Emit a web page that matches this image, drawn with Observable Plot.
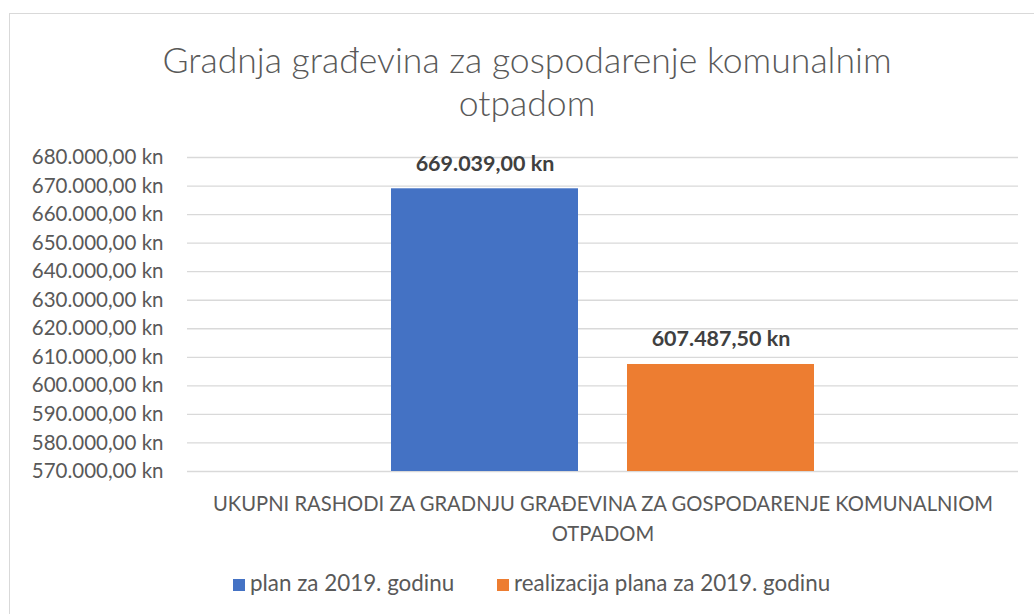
<!DOCTYPE html>
<html>
<head>
<meta charset="utf-8">
<script src="https://cdn.jsdelivr.net/npm/d3@7"></script>
<script src="https://cdn.jsdelivr.net/npm/@observablehq/plot@0.6"></script>
<style>
  html, body { margin: 0; padding: 0; background: #fff; overflow: hidden; }
  #frame { position: absolute; left: 9px; top: 13px; width: 1040px; height: 620px; border: 1px solid #d9d9d9; box-sizing: border-box; }
  #wrap { position: relative; width: 1034px; height: 614px; font-family: Lato, "Open Sans", sans-serif; color: #595959; }
  #title { position: absolute; left: 0; top: 38px; width: 1054px; text-align: center; font-size: 35.6px; line-height: 43px; color: #595959; font-weight: 300; }
  #chart { position: absolute; left: 0; top: 130px; }
  #legend { position: absolute; top: 569px; left: 0; width: 1034px; height: 28px; font-size: 22.4px; color: #595959; }
  .item { position: absolute; top: 0; line-height: 28px; white-space: nowrap; }
  .sw { display: inline-block; width: 12px; height: 12px; margin-right: 5px; vertical-align: 0px; }
</style>
</head>
<body>
<div id="frame"></div>
<div id="wrap">
  <div id="title">Gradnja građevina za gospodarenje komunalnim<br>otpadom</div>
  <div id="chart"></div>
  <div id="legend"></div>
</div>
<script>
const category = "UKUPNI RASHODI ZA GRADNJU GRAĐEVINA ZA GOSPODARENJE KOMUNALNIOM\nOTPADOM";
const series = ["plan za 2019. godinu", "realizacija plana za 2019. godinu"];
const values = [669039.00, 607487.50];
const colors = ["#4472C4", "#ED7D31"];
const yMin = 570000;
const yMax = 680000;
const yTicks = [570000, 580000, 590000, 600000, 610000, 620000, 630000, 640000, 650000, 660000, 670000, 680000];

const data = series.map((s, i) => ({category, series: s, value: values[i]}));

const hr = d3.formatLocale({decimal: ",", thousands: ".", grouping: [3], currency: ["", " kn"]});
const fmt = v => hr.format(",.2f")(v) + " kn";

const plot = Plot.plot({
  width: 1034,
  height: 420,
  marginLeft: 187,
  marginRight: 16,
  marginTop: 27,
  marginBottom: 79,
  style: {fontFamily: "Lato, 'Open Sans', sans-serif", color: "#595959", background: "transparent"},
  fx: {domain: [category], padding: 0, label: null},
  x: {domain: series, paddingInner: 0.2076, paddingOuter: 0.864, axis: null},
  y: {domain: [yMin, yMax], ticks: yTicks, label: null},
  color: {domain: series, range: colors},
  marks: [
    Plot.gridY(yTicks, {stroke: "#d9d9d9", strokeOpacity: 1, strokeWidth: 1.3}),
    Plot.axisY(yTicks, {tickFormat: fmt, tickSize: 0, tickPadding: 24, fontSize: 20.5, fill: "#595959", label: null}),
    Plot.axisFx({anchor: "bottom", tickSize: 0, tickPadding: 18, fontSize: 20.2, lineHeight: 1.48, fill: "#595959", label: null}),
    Plot.barY(data, {fx: "category", x: "series", y1: () => yMin, y2: "value", fill: "series"}),
    Plot.text(data, {fx: "category", x: "series", y: "value", text: d => fmt(d.value), dy: -25, fontSize: 21.5, fontWeight: "bold", fill: "#404040"})
  ]
});
document.getElementById("chart").appendChild(plot);

const legend = document.getElementById("legend");
const lefts = [233, 497];
series.forEach((s, i) => {
  const it = document.createElement("div");
  it.className = "item";
  it.style.left = lefts[i] + "px";
  it.innerHTML = `<span class="sw" style="background:${colors[i]}"></span>`;
  it.appendChild(document.createTextNode(s));
  legend.appendChild(it);
});
</script>
</body>
</html>
